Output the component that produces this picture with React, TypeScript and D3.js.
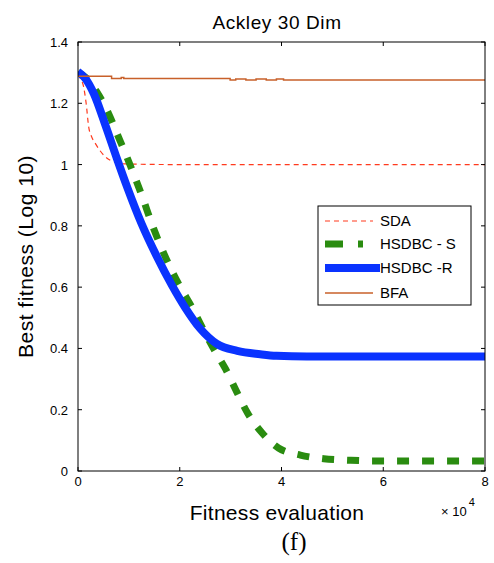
import React, { useEffect, useRef } from 'react';
import * as d3 from 'd3';

// x in units of 1e4 evaluations, y = log10(best fitness)
const sdaX = [0, 0.05, 0.11, 0.16, 0.21, 0.27, 0.34, 0.54, 0.73, 0.95, 2, 4, 6, 8];
const sdaY = [1.295, 1.28, 1.254, 1.2, 1.123, 1.09, 1.069, 1.025, 1.008, 1.002, 1.0, 1.0, 1.0, 1.0];

const hsdbcSX = [0, 0.15, 0.37, 0.6, 0.78, 0.96, 1.13, 1.29, 1.45, 1.62, 1.81, 2.01, 2.24, 2.44, 2.67, 2.9, 3.13, 3.33, 3.62, 3.94, 4.37, 4.83, 5.36, 5.8, 6.5, 8];
const hsdbcSY = [1.3, 1.285, 1.237, 1.167, 1.096, 1.025, 0.954, 0.883, 0.807, 0.736, 0.665, 0.6, 0.534, 0.469, 0.398, 0.333, 0.255, 0.19, 0.124, 0.075, 0.052, 0.04, 0.035, 0.033, 0.033, 0.033];

const hsdbcRX = [0, 0.15, 0.31, 0.54, 0.76, 0.97, 1.25, 1.55, 1.85, 2.1, 2.4, 2.73, 3.13, 3.58, 3.9, 4.5, 6, 8];
const hsdbcRY = [1.303, 1.28, 1.232, 1.128, 1.022, 0.925, 0.807, 0.7, 0.605, 0.535, 0.465, 0.415, 0.392, 0.381, 0.376, 0.374, 0.374, 0.374];

const bfaX = [0, 0.66, 0.85, 0.9, 2.99, 3.1, 3.3, 3.5, 3.7, 3.9, 4.04, 8];
const bfaY = [1.288, 1.281, 1.284, 1.281, 1.276, 1.279, 1.276, 1.279, 1.276, 1.279, 1.276, 1.276];

const xTicks = [0, 2, 4, 6, 8];
const yTicks = [0, 0.2, 0.4, 0.6, 0.8, 1, 1.2, 1.4];

const series = [
  { name: 'SDA', xs: sdaX, ys: sdaY, color: '#ff3a1e', width: 1.2, dash: '5 4', legEnd: 373 },
  { name: 'HSDBC - S', xs: hsdbcSX, ys: hsdbcSY, color: '#2a8c10', width: 7, dash: '12 13', legEnd: 363 },
  { name: 'HSDBC -R', xs: hsdbcRX, ys: hsdbcRY, color: '#0a33ff', width: 8, dash: null, legEnd: 380 },
  { name: 'BFA', xs: bfaX, ys: bfaY, color: '#c8602a', width: 1.5, dash: null, legEnd: 373 },
];

export default function App() {
  const ref = useRef<SVGSVGElement>(null);

  useEffect(() => {
    const svg = d3.select(ref.current);
    svg.selectAll('*').remove();

    const left = 78, right = 485, top = 42, bottom = 471;
    const x = d3.scaleLinear().domain([0, 8]).range([left, right]);
    const y = d3.scaleLinear().domain([0, 1.4]).range([bottom, top]);
    const font = 'Liberation Sans, Arial, sans-serif';

    svg.append('rect').attr('width', 494).attr('height', 563).attr('fill', '#fff');

    const clip = svg.append('clipPath').attr('id', 'plot');
    clip.append('rect').attr('x', left).attr('y', top).attr('width', right - left).attr('height', bottom - top);

    const g = svg.append('g').attr('clip-path', 'url(#plot)');
    series.forEach(s => {
      const pts = s.xs.map((v, i) => [v, s.ys[i]] as [number, number]);
      const line = d3.line<[number, number]>()
        .x(d => x(d[0])).y(d => y(d[1]))
        .curve(s.name === 'BFA' ? d3.curveStepAfter : d3.curveMonotoneX);
      const p = g.append('path')
        .attr('d', line(pts))
        .attr('fill', 'none')
        .attr('stroke', s.color)
        .attr('stroke-width', s.width);
      if (s.dash) p.attr('stroke-dasharray', s.dash);
    });

    // frame
    svg.append('rect')
      .attr('x', left).attr('y', top)
      .attr('width', right - left).attr('height', bottom - top)
      .attr('fill', 'none').attr('stroke', '#000').attr('stroke-width', 1);

    const tl = 4;
    xTicks.forEach(t => {
      svg.append('line').attr('x1', x(t)).attr('x2', x(t)).attr('y1', bottom).attr('y2', bottom - tl).attr('stroke', '#000');
      svg.append('line').attr('x1', x(t)).attr('x2', x(t)).attr('y1', top).attr('y2', top + tl).attr('stroke', '#000');
      svg.append('text').attr('x', x(t)).attr('y', bottom + 15)
        .attr('text-anchor', 'middle').attr('font-family', font).attr('font-size', 13).text(String(t));
    });
    yTicks.forEach(t => {
      svg.append('line').attr('x1', left).attr('x2', left + tl).attr('y1', y(t)).attr('y2', y(t)).attr('stroke', '#000');
      svg.append('line').attr('x1', right).attr('x2', right - tl).attr('y1', y(t)).attr('y2', y(t)).attr('stroke', '#000');
      svg.append('text').attr('x', left - 10).attr('y', y(t) + 5)
        .attr('text-anchor', 'end').attr('font-family', font).attr('font-size', 13).text(String(t));
    });

    svg.append('text').attr('x', 277).attr('y', 29).attr('text-anchor', 'middle')
      .attr('font-family', font).attr('font-size', 19).attr('letter-spacing', 0.6).text('Ackley 30 Dim');

    svg.append('text').attr('transform', `translate(33,${(top + bottom) / 2}) rotate(-90)`)
      .attr('text-anchor', 'middle').attr('font-family', font).attr('font-size', 21).attr('letter-spacing', 0.5)
      .text('Best fitness (Log 10)');

    svg.append('text').attr('x', 277).attr('y', 520).attr('text-anchor', 'middle')
      .attr('font-family', font).attr('font-size', 21).attr('letter-spacing', 0.3).text('Fitness evaluation');

    const ex = svg.append('text').attr('x', 441).attr('y', 516)
      .attr('font-family', font).attr('font-size', 13);
    ex.append('tspan').text('× 10');
    ex.append('tspan').attr('dy', -10).attr('dx', 2).attr('font-size', 11).text('4');

    svg.append('text').attr('x', 294).attr('y', 550).attr('text-anchor', 'middle')
      .attr('font-family', 'Liberation Serif, Times New Roman, serif').attr('font-size', 25).text('(f)');

    // legend
    const lg = svg.append('g');
    lg.append('rect').attr('x', 318).attr('y', 206).attr('width', 153).attr('height', 99)
      .attr('fill', '#fff').attr('stroke', '#000').attr('stroke-width', 1);
    const rowY = [221, 244, 268, 293];
    series.forEach((s, i) => {
      const l = lg.append('line')
        .attr('x1', 325).attr('x2', s.legEnd)
        .attr('y1', rowY[i]).attr('y2', rowY[i])
        .attr('stroke', s.color).attr('stroke-width', s.width);
      if (s.dash) l.attr('stroke-dasharray', s.name === 'SDA' ? '5 4' : '18 15');
      lg.append('text').attr('x', 380).attr('y', rowY[i] + 5)
        .attr('font-family', font).attr('font-size', 15).text(s.name);
    });
  }, []);

  return (
    <svg ref={ref} width={494} height={563} style={{ position: 'absolute', left: 0, top: 0 }} />
  );
}
